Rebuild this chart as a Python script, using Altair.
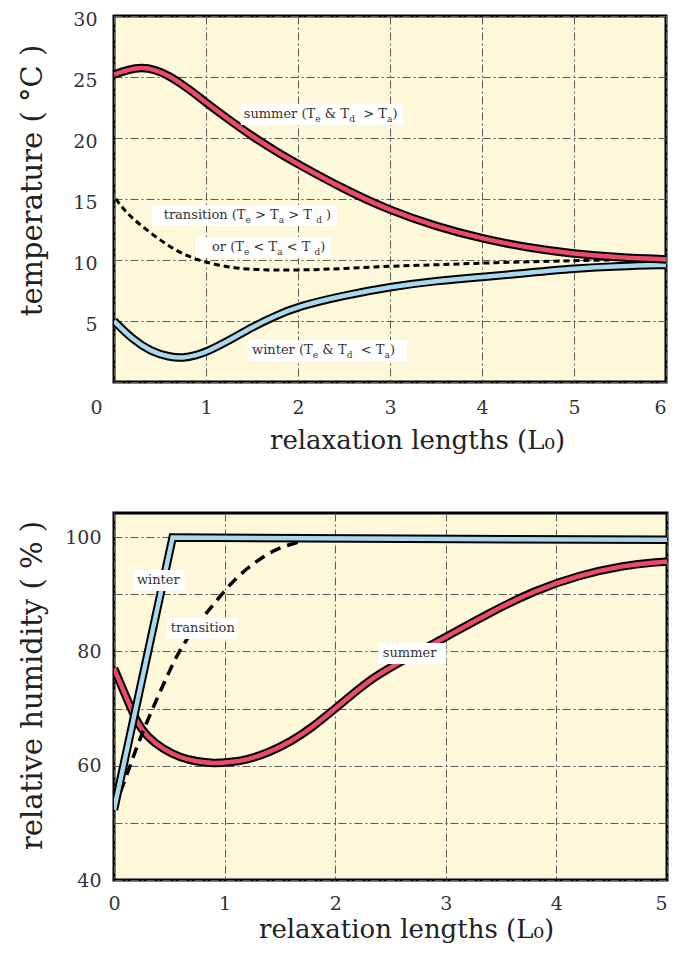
import altair as alt
import pandas as pd

FONT = "DejaVu Serif"
BG = "#FDF8DA"
RED = "#EC4A6B"
BLUE = "#A8D8EE"
GRID = "#5a5a5a"

# ---------------- top panel: temperature (°C) vs relaxation lengths ----------------
temp_summer_x = [0, 0.15, 0.3, 0.45, 0.6, 0.8, 1.0, 1.25, 1.5, 1.75, 2.0, 2.5, 3.0, 3.5, 4.0, 4.5, 5.0, 5.5, 6.0]
temp_summer_y = [25.2, 25.6, 25.8, 25.6, 25.1, 24.1, 22.9, 21.5, 20.15, 18.95, 17.85, 15.8, 14.05, 12.75, 11.75, 11.0, 10.5, 10.2, 10.05]

temp_trans_x = [0.02, 0.1, 0.2, 0.4, 0.6, 0.8, 1.0, 1.25, 1.5, 2.0, 2.5, 3.0, 3.5, 4.0, 4.5, 5.0, 5.4]
temp_trans_y = [15.0, 14.2, 13.4, 12.2, 11.1, 10.3, 9.8, 9.4, 9.2, 9.15, 9.3, 9.5, 9.6, 9.75, 9.85, 9.95, 10.0]

temp_winter_x = [0, 0.2, 0.4, 0.6, 0.75, 0.9, 1.0, 1.25, 1.5, 1.75, 2.0, 2.5, 3.0, 3.5, 4.0, 4.5, 5.0, 5.5, 6.0]
temp_winter_y = [5.0, 3.5, 2.5, 2.05, 1.95, 2.2, 2.45, 3.4, 4.5, 5.4, 6.2, 7.1, 7.8, 8.3, 8.6, 8.95, 9.3, 9.5, 9.6]

temp_x_ticks = [0, 1, 2, 3, 4, 5, 6]
temp_y_ticks = [0, 5, 10, 15, 20, 25, 30]

# ---------------- bottom panel: relative humidity (%) ----------------
rh_summer_x = [0, 0.1, 0.2, 0.3, 0.45, 0.6, 0.75, 0.9, 1.05, 1.2, 1.4, 1.6, 1.8, 2.0, 2.2, 2.35, 2.6, 3.0, 3.4, 3.8, 4.2, 4.6, 4.9, 5.0]
rh_summer_y = [77.0, 72.5, 67.8, 65.0, 62.8, 61.4, 60.7, 60.4, 60.6, 61.0, 62.3, 64.2, 66.8, 70.0, 73.2, 75.5, 78.3, 82.5, 86.8, 90.6, 93.3, 95.0, 95.6, 95.7]

rh_trans_x = [0, 0.1, 0.2, 0.3, 0.4, 0.5, 0.6, 0.75, 0.9, 1.05, 1.2, 1.35, 1.5, 1.7]
rh_trans_y = [52.5, 57.5, 63.0, 67.8, 72.2, 76.5, 80.5, 84.7, 88.2, 91.8, 94.5, 96.6, 98.2, 99.3]

rh_winter_x = [0, 0.53, 5.0]
rh_winter_y = [52.3, 99.9, 99.5]

rh_x_ticks = [0, 1, 2, 3, 4, 5]
rh_y_ticks = [40, 50, 60, 70, 80, 90, 100]

# ---------------- labels (anchor x, anchor baseline y, pads, pieces) ----------------
temp_labels = [
    (1.41, 21.64, 3, 6, [("summer (T", 0), ("e", 1), (" & T", 0), ("d", 1), ("  > T", 0), ("a", 1), (")", 0)]),
    (0.54, 13.36, 12, 6, [("transition (T", 0), ("e", 1), (" > T", 0), ("a", 1), (" >  T", 0), ("d", 1), (" )", 0)]),
    (1.065, 10.74, 16, 6, [("or (T", 0), ("e", 1), (" < T", 0), ("a", 1), (" <  T", 0), ("d", 1), (")", 0)]),
    (1.50, 2.30, 4, 12, [("winter (T", 0), ("e", 1), (" & T", 0), ("d", 1), ("  < T", 0), ("a", 1), (")", 0)]),
]
rh_labels = [
    (0.207, 91.8, 3, 5, [("winter", 0)]),
    (0.514, 83.4, 4, 2, [("transition", 0)]),
    (2.43, 79.0, 5, 10, [("summer", 0)]),
]

CW = {' ': 0.318, 'a': 0.596, 'b': 0.640, 'c': 0.560, 'd': 0.640, 'e': 0.592, 'f': 0.370,
      'g': 0.640, 'h': 0.644, 'i': 0.320, 'l': 0.320, 'm': 0.948, 'n': 0.644, 'o': 0.602,
      'p': 0.640, 'r': 0.478, 's': 0.513, 't': 0.402, 'u': 0.644, 'w': 0.856, 'x': 0.564,
      'T': 0.672, '(': 0.390, ')': 0.390, '&': 0.897, '>': 0.838, '<': 0.838}


def tw(s, size):
    return sum(CW.get(c, 0.6) for c in s) * size


def panel(series, labels, W, H, xd, yd, xaxis, yaxis, dash):
    sx = W / (xd[1] - xd[0])
    sy = H / (yd[1] - yd[0])
    xe = alt.X('x:Q', scale=alt.Scale(domain=xd, nice=False, zero=False), axis=xaxis)
    ye = alt.Y('y:Q', scale=alt.Scale(domain=yd, nice=False, zero=False), axis=yaxis)
    layers = []
    for kind, xs, ys, color in series:
        df = pd.DataFrame({'x': xs, 'y': ys})
        if kind == 'dash':
            layers.append(alt.Chart(df).mark_line(color='black', strokeWidth=dash[0], strokeDash=dash[1],
                                                  interpolate='basis', clip=True).encode(x=xe, y=ye))
        else:
            interp = 'linear' if kind == 'lin' else 'basis'
            layers.append(alt.Chart(df).mark_line(color='black', strokeWidth=8.5, interpolate=interp,
                                                  strokeJoin='miter', clip=True).encode(x=xe, y=ye))
            layers.append(alt.Chart(df).mark_line(color=color, strokeWidth=4.5, interpolate=interp,
                                                  strokeJoin='miter', clip=True).encode(x=xe, y=ye))
    boxes, mains, subs = [], [], []
    for ax, ay, lp, rp, pieces in labels:
        off = 0.0
        for txt, sub in pieces:
            size = 9 if sub else 13
            stripped = txt.lstrip()
            lead = tw(txt[:len(txt) - len(stripped)], size)
            row = {'x': ax + (off + lead) / sx, 'y': ay, 'text': stripped.rstrip()}
            (subs if sub else mains).append(row)
            off += tw(txt, size)
        boxes.append({'x': ax - lp / sx, 'x2': ax + (off + rp) / sx, 'y': ay + 14 / sy, 'y2': ay - 7 / sy})
    layers.append(alt.Chart(pd.DataFrame(boxes)).mark_rect(color='white').encode(
        x=xe, x2='x2:Q', y=ye, y2='y2:Q'))
    layers.append(alt.Chart(pd.DataFrame(mains)).mark_text(
        align='left', baseline='alphabetic', fontSize=13, font=FONT, color='#333').encode(x=xe, y=ye, text='text:N'))
    if subs:
        layers.append(alt.Chart(pd.DataFrame(subs)).mark_text(
            align='left', baseline='alphabetic', fontSize=9, dy=4, font=FONT, color='#333').encode(x=xe, y=ye, text='text:N'))
    return alt.layer(*layers).properties(width=W, height=H)


common = dict(grid=True, gridDash=[8, 3, 2, 3], gridColor=GRID, gridWidth=1, domain=False, ticks=False,
              labelFont=FONT, labelFontSize=19, labelColor='#333', titleFont=FONT,
              titleFontWeight='normal', titleColor='#222')

top_x = alt.Axis(values=temp_x_ticks, title='relaxation lengths (L₀)', labelFlush=False, labelPadding=31,
                 labelBaseline='alphabetic',
                 labelOffset={"condition": {"test": "datum.value == 0", "value": -18}, "value": 0},
                 labelAlign={"condition": {"test": "datum.value == 6", "value": "right"}, "value": "center"},
                 titleX=303, titleY=66, titleBaseline='alphabetic', titleAlign='center', titleFontSize=26, **common)
top_y = alt.Axis(values=temp_y_ticks, labelExpr="datum.value == 0 ? '' : datum.label", title='temperature ( °C )',
                 labelPadding=17, labelOffset=3, titleX=-82, titleY=164, titleBaseline='middle', titleAlign='center',
                 titleAngle=-90, titleFontSize=29, **common)
bot_x = alt.Axis(values=rh_x_ticks, title='relaxation lengths (L₀)', labelFlush=False, labelPadding=29,
                 labelBaseline='alphabetic',
                 labelAlign={"condition": {"test": "datum.value == 5", "value": "right"}, "value": "center"},
                 titleX=292, titleY=57, titleBaseline='alphabetic', titleAlign='center', titleFontSize=26,
                 **common)
bot_y = alt.Axis(values=rh_y_ticks, labelExpr="datum.value % 20 == 0 ? datum.label : ''",
                 title='relative humidity ( % )', labelPadding=13, titleX=-82, titleY=172, titleBaseline='middle',
                 titleAlign='center', titleAngle=-90, titleFontSize=29, **common)

top = panel([('dash', temp_trans_x, temp_trans_y, None),
             ('curve', temp_winter_x, temp_winter_y, BLUE),
             ('curve', temp_summer_x, temp_summer_y, RED)],
            temp_labels, 552, 366, [0, 6], [0, 30], top_x, top_y, (3, [6, 4]))

bottom = panel([('curve', rh_summer_x, rh_summer_y, RED),
                ('dash', rh_trans_x, rh_trans_y, None),
                ('lin', rh_winter_x, rh_winter_y, BLUE)],
               rh_labels, 553, 367, [0, 5], [40, 104.2], bot_x, bot_y, (3.5, [11, 7]))

chart = alt.vconcat(top, bottom, spacing=56).properties(
    padding={"left": 8, "top": 0, "right": 0, "bottom": 0}
).configure(font=FONT).configure_view(fill=BG, stroke='black', strokeWidth=3)

chart.save("out.html", embed_options={"renderer": "svg", "actions": False})
